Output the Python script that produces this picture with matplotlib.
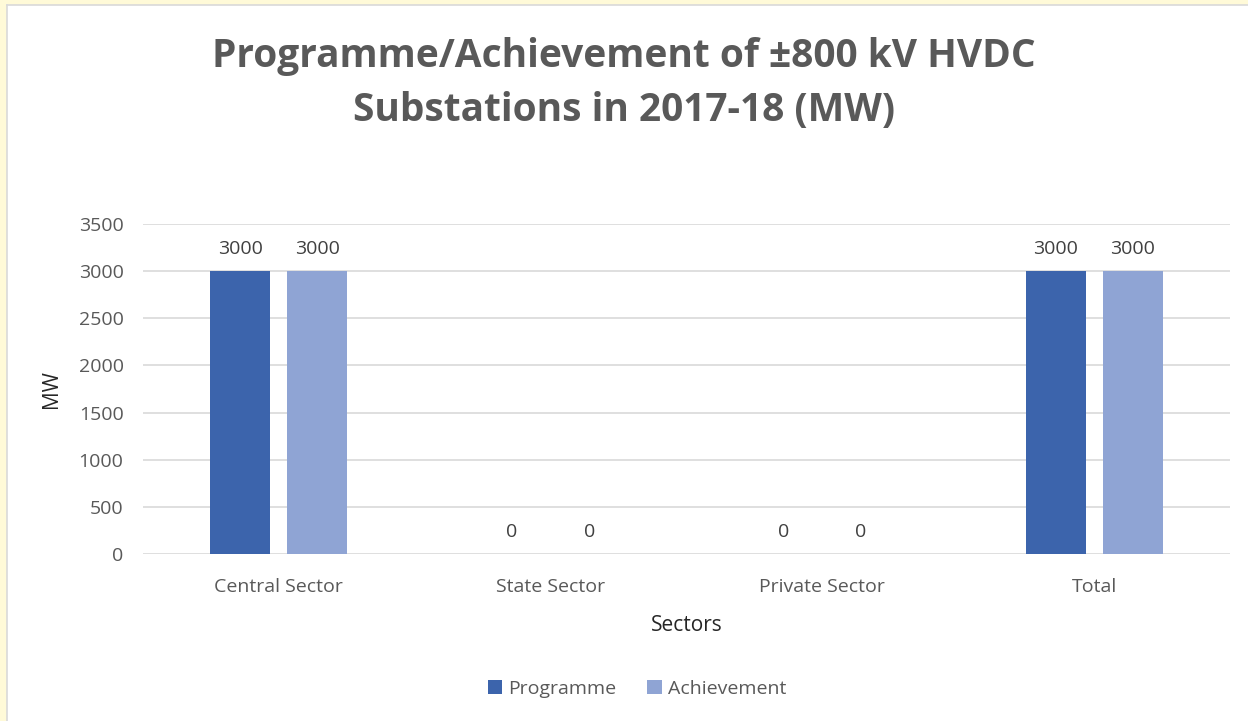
import matplotlib.pyplot as plt
import numpy as np
from matplotlib.patches import Rectangle
from matplotlib.lines import Line2D

CATEGORIES = ["Central Sector", "State Sector", "Private Sector", "Total"]
PROGRAMME = [3000, 0, 0, 3000]
ACHIEVEMENT = [3000, 0, 0, 3000]
SERIES_NAMES = ["Programme", "Achievement"]
Y_TICKS = [0, 500, 1000, 1500, 2000, 2500, 3000, 3500]

COLORS = ["#3C64AC", "#8FA4D4"]
TEXT = "#595959"
FONT = ["Open Sans", "DejaVu Sans"]

plt.rcParams["font.family"] = FONT

fig = plt.figure(figsize=(12.48, 7.21), dpi=100)
fig.patch.set_facecolor("white")

# cream frame on left/top edge, with a thin grey line inside
W, H = 1248, 721
fig.patches.append(Rectangle((0, 0), 7 / W, 1, transform=fig.transFigure,
                             facecolor="#FFFAD8", edgecolor="none", zorder=0))
fig.patches.append(Rectangle((0, 1 - 5 / H), 1, 5 / H, transform=fig.transFigure,
                             facecolor="#FFFAD8", edgecolor="none", zorder=0))
fig.lines.append(Line2D([7 / W, 7 / W], [0, 1 - 5 / H], transform=fig.transFigure,
                        color="#D9D9D9", lw=1.2))
fig.lines.append(Line2D([7 / W, 1], [1 - 5 / H, 1 - 5 / H], transform=fig.transFigure,
                        color="#D9D9D9", lw=1.2))

ax = fig.add_axes([143 / W, 1 - 554 / H, (1230 - 143) / W, (554 - 224) / H])
ax.set_facecolor("white")

x = np.arange(len(CATEGORIES))
width = 0.221
offset = 0.1417
for i, (vals, name) in enumerate(zip([PROGRAMME, ACHIEVEMENT], SERIES_NAMES)):
    pos = x + (i * 2 - 1) * offset
    bars = ax.bar(pos, vals, width, color=COLORS[i], label=name, zorder=3)
    for b, v in zip(bars, vals):
        ax.text(b.get_x() + b.get_width() / 2, v + 135, f"{v}",
                ha="center", va="bottom", fontsize=14, color="#404040")

ax.set_xlim(-0.5, 3.5)
ax.set_ylim(0, 3500)
ax.set_yticks(Y_TICKS)
ax.set_xticks(x)
ax.set_xticklabels(CATEGORIES)
ax.tick_params(axis="both", length=0, labelsize=14, colors=TEXT)
ax.tick_params(axis="x", pad=17)
ax.tick_params(axis="y", pad=14)
ax.grid(axis="y", color="#D9D9D9", lw=1.2, zorder=0)
for s in ax.spines.values():
    s.set_visible(False)

ax.set_ylabel("MW", fontsize=15, color="#262626", labelpad=12)
ax.set_xlabel("Sectors", fontsize=15, color="#262626", labelpad=14)

fig.text(0.5, 1 - 83 / H, "Programme/Achievement of \u00b1800 kV HVDC\nSubstations in 2017-18 (MW)",
         ha="center", va="center", fontsize=28, fontweight="bold", color=TEXT,
         linespacing=1.5)

leg = fig.legend(loc="center", bbox_to_anchor=(637 / W, 1 - 689 / H), ncol=2,
                 frameon=False, fontsize=14, handlelength=0.75, handleheight=0.75,
                 handletextpad=0.3, columnspacing=1.6)
for t in leg.get_texts():
    t.set_color(TEXT)

fig.savefig("out.png", dpi=100, facecolor=fig.get_facecolor())
